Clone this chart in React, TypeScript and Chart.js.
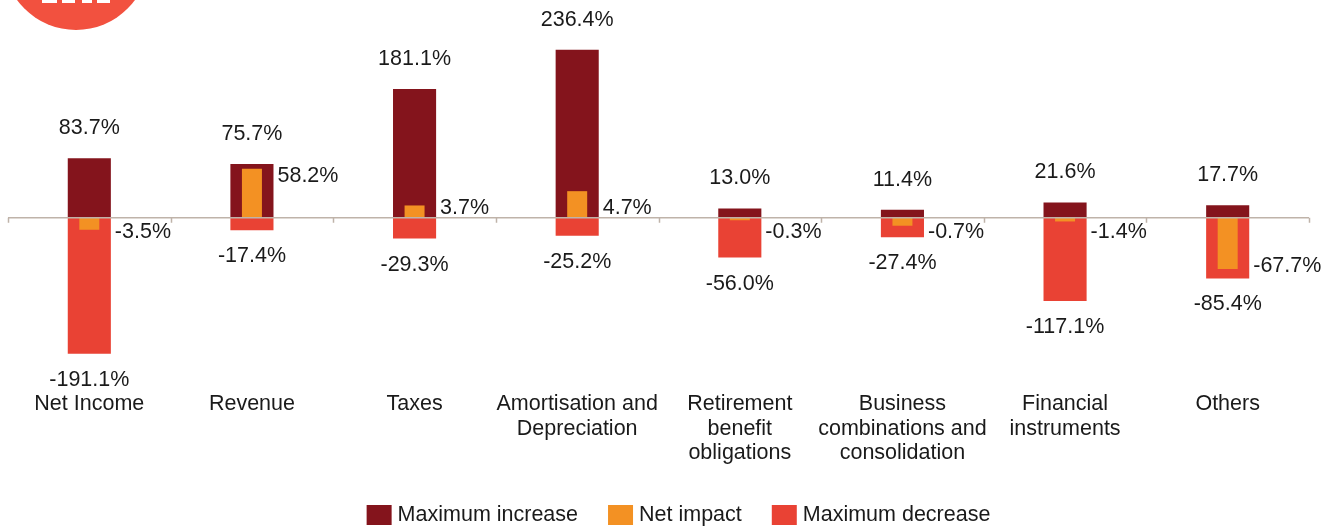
import React, { useEffect, useRef } from "react";
import { Chart, registerables } from "chart.js";

Chart.register(...registerables);

const categories: string[][] = [
  ["Net Income"],
  ["Revenue"],
  ["Taxes"],
  ["Amortisation and", "Depreciation"],
  ["Retirement", "benefit", "obligations"],
  ["Business", "combinations and", "consolidation"],
  ["Financial", "instruments"],
  ["Others"],
];

const maxIncrease = [83.7, 75.7, 181.1, 236.4, 13.0, 11.4, 21.6, 17.7];
const maxDecrease = [-191.1, -17.4, -29.3, -25.2, -56.0, -27.4, -117.1, -85.4];
// Net impact as labelled
const netImpact = [-3.5, 58.2, 3.7, 4.7, -0.3, -0.7, -1.4, -67.7];
// Net impact bar heights as drawn in the picture
const netImpactBar = [-16.9, 68.9, 17.3, 37.4, -3.5, -11.2, -5.2, -72.2];

const COLORS = {
  inc: "#84141C",
  net: "#F39123",
  dec: "#E94234",
  logo: "#F2513F",
  axis: "#BFB3A9",
  text: "#1A1A1A",
};

const FONT_FAMILY = '"Liberation Sans", Arial, Helvetica, sans-serif';
const FONT_SIZE = 21.5;

const fmt = (v: number) => v.toFixed(1) + "%";

const decorPlugin = {
  id: "decor",
  beforeDraw(chart: any) {
    const ctx = chart.ctx;
    ctx.save();
    ctx.fillStyle = COLORS.logo;
    ctx.beginPath();
    ctx.arc(76, -43, 73, 0, Math.PI * 2);
    ctx.fill();
    ctx.fillStyle = "#FFFFFF";
    ctx.fillRect(42, 0, 15, 3);
    ctx.fillRect(62, 0, 13, 3);
    ctx.fillRect(82, 0, 10, 3);
    ctx.fillRect(97, 0, 13, 3);
    ctx.restore();
  },
  afterDatasetsDraw(chart: any) {
    const ctx = chart.ctx;
    const xs = chart.scales.x;
    const ys = chart.scales.y;
    const zero = ys.getPixelForValue(0);
    const area = chart.chartArea;
    ctx.save();
    // zero axis line
    ctx.strokeStyle = COLORS.axis;
    ctx.lineWidth = 1.5;
    ctx.beginPath();
    ctx.moveTo(area.left, zero);
    ctx.lineTo(area.right, zero);
    ctx.stroke();
    // category tick marks
    for (let i = 0; i <= categories.length; i++) {
      const px = Math.round(xs.getPixelForValue(i - 0.5)) + 0.5;
      ctx.beginPath();
      ctx.moveTo(px, zero);
      ctx.lineTo(px, zero + 5);
      ctx.stroke();
    }
    // value labels
    ctx.fillStyle = COLORS.text;
    ctx.font = `${FONT_SIZE}px ${FONT_FAMILY}`;
    ctx.textBaseline = "middle";
    const incMeta = chart.getDatasetMeta(0);
    const decMeta = chart.getDatasetMeta(2);
    for (let i = 0; i < categories.length; i++) {
      const inc = incMeta.data[i];
      const dec = decMeta.data[i];
      ctx.textAlign = "center";
      ctx.fillText(fmt(maxIncrease[i]), inc.x, inc.y - 30);
      ctx.fillText(fmt(maxDecrease[i]), dec.x, dec.y + 26);
      const v = netImpact[i];
      const py = ys.getPixelForValue(v);
      const ly = v >= 0 ? Math.min(py, zero - 10) : Math.max(py, zero + 14);
      ctx.textAlign = "left";
      ctx.fillText(fmt(v), inc.x + inc.width / 2 + 4, ly);
    }

    // legend (custom drawn, order = dataset order)
    const ds = chart.data.datasets;
    const boxW = 25;
    const boxH = 20;
    const textGap = 6;
    const itemGap = 30;
    const widths = ds.map((d: any) => boxW + textGap + ctx.measureText(d.label).width);
    const total = widths.reduce((a: number, b: number) => a + b, 0) + itemGap * (ds.length - 1);
    const cx = chart.width / 2 + 7;
    const ly = 515;
    let x = cx - total / 2;
    ctx.textAlign = "left";
    ds.forEach((d: any, k: number) => {
      ctx.fillStyle = d.backgroundColor;
      ctx.fillRect(x, ly - boxH / 2, boxW, boxH);
      ctx.fillStyle = COLORS.text;
      ctx.fillText(d.label, x + boxW + textGap, ly);
      x += widths[k] + itemGap;
    });
    ctx.restore();
  },
};

export default function App() {
  const ref = useRef<HTMLCanvasElement | null>(null);

  useEffect(() => {
    if (!ref.current) return;
    const chart = new Chart(ref.current, {
      type: "bar",
      data: {
        labels: categories,
        datasets: [
          {
            label: "Maximum increase",
            data: maxIncrease,
            backgroundColor: COLORS.inc,
            barPercentage: 0.265,
            categoryPercentage: 1,
            grouped: false,
            order: 1,
          },
          {
            label: "Net impact",
            data: netImpactBar,
            backgroundColor: COLORS.net,
            barPercentage: 0.123,
            categoryPercentage: 1,
            grouped: false,
            order: 0,
          },
          {
            label: "Maximum decrease",
            data: maxDecrease,
            backgroundColor: COLORS.dec,
            barPercentage: 0.265,
            categoryPercentage: 1,
            grouped: false,
            order: 2,
          },
        ] as any,
      },
      options: {
        responsive: false,
        animation: false,
        devicePixelRatio: 1,
        layout: { padding: { left: 8, right: 34, top: 40, bottom: 63.5 } },
        scales: {
          x: {
            offset: true,
            grid: { display: false, drawTicks: false },
            border: { display: false },
            ticks: {
              autoSkip: false,
              maxRotation: 0,
              padding: 0,
              color: COLORS.text,
              font: { family: FONT_FAMILY, size: FONT_SIZE, lineHeight: 1.14 },
            },
          },
          y: {
            display: false,
            min: -245,
            max: 250,
          },
        },
        plugins: {
          tooltip: { enabled: false },
          legend: { display: false },
        },
      },
      plugins: [decorPlugin],
    });
    return () => chart.destroy();
  }, []);

  return (
    <div style={{ position: "fixed", left: 0, top: 0, width: 1343, height: 529, background: "#fff", overflow: "hidden" }}>
      <canvas ref={ref} width={1343} height={529} style={{ display: "block" }} />
    </div>
  );
}
